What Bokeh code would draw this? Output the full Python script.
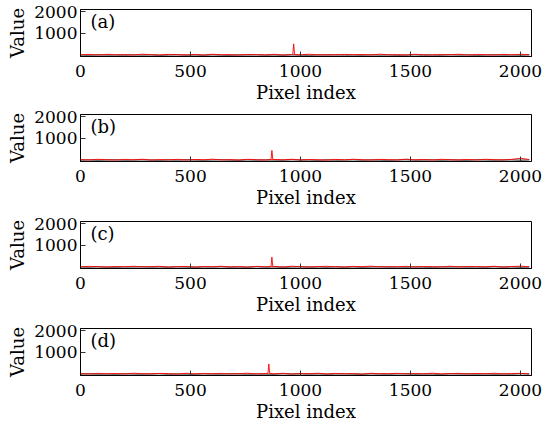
from bokeh.plotting import figure
from bokeh.layouts import column
from bokeh.models import FixedTicker, Range1d, Label
from bokeh.embed import file_html
from bokeh.resources import INLINE

# ---- data (sparse samples of the noisy traces) ----
pixel_grid = [0, 40, 80, 120, 160, 200, 240, 280, 320, 360, 400, 440, 480,
              520, 560, 600, 640, 680, 720, 760, 800, 840, 880, 920, 960,
              1000, 1040, 1080, 1120, 1160, 1200, 1240, 1280, 1320, 1360,
              1400, 1440, 1480, 1520, 1560, 1600, 1640, 1680, 1720, 1760,
              1800, 1840, 1880, 1920, 1960, 2000, 2040]

panel_tags = ["(a)", "(b)", "(c)", "(d)"]
spike_pixel = [969, 870, 870, 856]
spike_value = [520, 450, 460, 470]

red_a = [20, 35, 10, 40, 15, 30, 5, 45, 25, 10, 38, 20, 12, 30, 8, 42, 18, 28,
         6, 36, 22, 14, 40, 10, 30, 18, 44, 12, 26, 8, 38, 20, 32, 10, 46, 16,
         28, 6, 40, 22, 12, 34, 18, 44, 10, 30, 24, 8, 38, 16, 42, 20]
red_b = [30, 12, 40, 22, 8, 36, 18, 44, 10, 28, 16, 38, 6, 32, 20, 46, 14, 26,
         10, 40, 24, 8, 34, 18, 42, 12, 30, 20, 6, 38, 16, 44, 22, 10, 36, 26,
         12, 48, 18, 30, 8, 40, 20, 14, 34, 10, 42, 24, 16, 38, 90, 30]
red_c = [14, 38, 22, 6, 32, 18, 44, 12, 28, 40, 10, 24, 36, 8, 30, 20, 42, 14,
         26, 6, 38, 18, 34, 10, 44, 22, 12, 30, 40, 16, 8, 36, 24, 46, 12, 28,
         18, 40, 6, 32, 22, 14, 44, 10, 36, 26, 18, 42, 8, 30, 48, 20]
red_d = [26, 10, 40, 18, 32, 8, 44, 22, 14, 36, 28, 6, 42, 16, 30, 20, 38, 12,
         24, 46, 10, 34, 18, 40, 8, 28, 22, 44, 12, 36, 16, 30, 6, 42, 20, 26,
         38, 10, 32, 18, 46, 14, 24, 40, 8, 34, 20, 44, 12, 30, 38, 16]

black_a = [8, 0, 14, 4, 10, 2, 16, 6, 12, 0, 8, 18, 4, 10, 2, 14, 6, 0, 12, 8,
           16, 4, 10, 2, 14, 6, 0, 12, 8, 18, 4, 10, 2, 16, 6, 12, 0, 8, 14, 4,
           10, 2, 18, 6, 12, 0, 8, 16, 4, 10, 2, 14]
black_b = [4, 12, 0, 10, 16, 2, 8, 14, 6, 0, 12, 4, 18, 8, 2, 10, 16, 6, 0, 14,
           4, 12, 8, 2, 18, 6, 10, 0, 14, 4, 8, 16, 2, 12, 6, 0, 10, 18, 4, 8,
           14, 2, 12, 6, 0, 16, 10, 4, 8, 14, 2, 12]
black_c = [10, 2, 16, 6, 0, 12, 8, 18, 4, 10, 2, 14, 6, 0, 12, 8, 16, 4, 10, 2,
           18, 6, 12, 0, 8, 14, 4, 10, 2, 16, 6, 12, 0, 8, 18, 4, 10, 2, 14, 6,
           0, 12, 8, 16, 4, 10, 2, 18, 6, 12, 0, 8]
black_d = [6, 14, 2, 10, 0, 16, 8, 4, 12, 18, 2, 10, 6, 0, 14, 8, 4, 16, 12, 2,
           10, 6, 0, 18, 8, 14, 4, 12, 2, 10, 16, 6, 0, 14, 8, 4, 12, 18, 2, 10,
           6, 0, 16, 8, 14, 4, 12, 2, 10, 6, 18, 8]

red_series = [red_a, red_b, red_c, red_d]
black_series = [black_a, black_b, black_c, black_d]

x_ticks = [0, 500, 1000, 1500, 2000]
y_ticks = [1000, 2000]
x_label = "Pixel index"
y_label = "Value"

FONT = "DejaVu Serif"
heights = [106, 107, 107, 106]
tops = [9, 8, 8, 8]
bottoms = [50, 52, 52, 51]

figs = []
for i in range(4):
    sp = spike_pixel[i]
    base = red_series[i][pixel_grid.index(min(pixel_grid, key=lambda g: abs(g - sp)))]
    pts = list(zip(pixel_grid, red_series[i])) + [(sp - 4, base), (sp, spike_value[i]), (sp + 4, base)]
    pts.sort()
    rx = [q[0] for q in pts]
    ry = [q[1] for q in pts]

    p = figure(width=545, height=heights[i], output_backend="svg", toolbar_location=None,
               x_range=Range1d(0, 2050), y_range=Range1d(-60, 2100),
               min_border_left=80, min_border_right=14, min_border_top=tops[i],
               min_border_bottom=bottoms[i])
    p.grid.visible = False
    p.outline_line_color = "black"
    p.outline_line_width = 1
    p.background_fill_color = "white"
    p.border_fill_color = "white"

    p.line(pixel_grid, black_series[i], line_color="#222222", line_width=1.0)
    p.line(rx, ry, line_color="#ff0000", line_width=1.0, line_alpha=0.9)

    p.xaxis.ticker = FixedTicker(ticks=x_ticks)
    p.yaxis.ticker = FixedTicker(ticks=y_ticks)
    for ax in (p.xaxis[0], p.yaxis[0]):
        ax.major_tick_in = 5
        ax.major_tick_out = 0
        ax.minor_tick_in = 0
        ax.minor_tick_out = 0
        ax.axis_line_color = "black"
        ax.major_tick_line_color = "#333333"
        ax.major_label_text_font = FONT
        ax.major_label_text_font_size = "17px"
        ax.major_label_text_color = "black"
        ax.axis_label_text_font = FONT
        ax.axis_label_text_font_size = "18px"
        ax.axis_label_text_font_style = "normal"
        ax.axis_label_text_color = "black"
    p.xaxis.axis_label = x_label
    p.yaxis.axis_label = y_label
    p.xaxis.major_label_standoff = 8
    p.xaxis.axis_label_standoff = 2
    p.yaxis.major_label_standoff = 3
    p.yaxis.axis_label_standoff = 3

    p.add_layout(Label(x=45, y=1540, text=panel_tags[i], text_font=FONT,
                       text_font_size="18px", text_baseline="middle", text_color="black"))
    figs.append(p)

layout = column(*figs, spacing=0)
open("out.html", "w").write(file_html(layout, INLINE))
